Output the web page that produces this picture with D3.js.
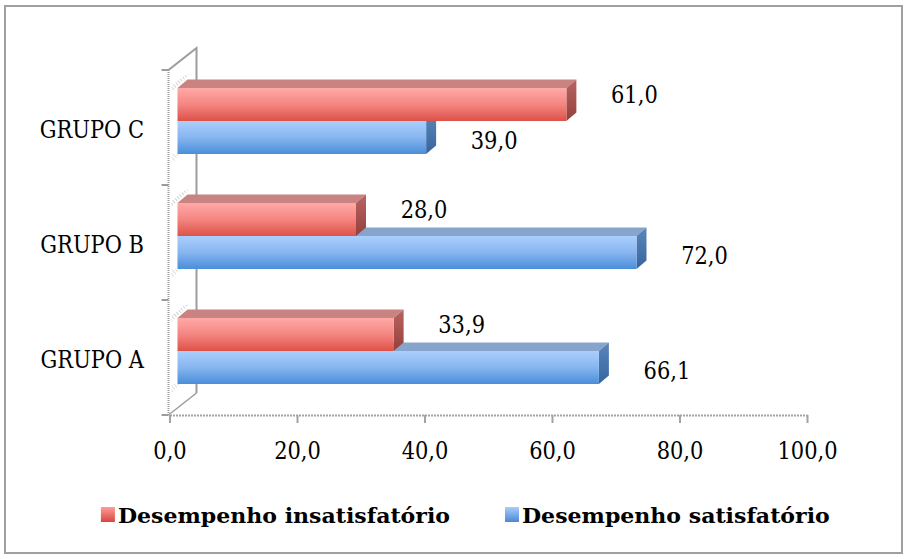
<!DOCTYPE html>
<html>
<head>
<meta charset="utf-8">
<script src="https://cdn.jsdelivr.net/npm/d3@7/dist/d3.min.js"></script>
<style>
  html, body { margin: 0; padding: 0; background: #fff; }
  svg { display: block; }
</style>
</head>
<body>
<svg id="chart" width="908" height="559"></svg>
<script>
// ---------- data ----------
const categories = ["GRUPO A", "GRUPO B", "GRUPO C"];
const insatisfatorio = [33.9, 28.0, 61.0];
const satisfatorio = [66.1, 72.0, 39.0];
const seriesNames = ["Desempenho insatisfatório", "Desempenho satisfatório"];
const xTickValues = [0, 20, 40, 60, 80, 100];

// ---------- layout ----------
const W = 908, H = 559;
const svg = d3.select("#chart");
const FONT = "'DejaVu Serif', 'Liberation Serif', serif";
const CONDENSE = 0.875;
const fmt = v => d3.format(".1f")(v).replace(".", ",");

const x = d3.scaleLinear().domain([0, 100]).range([169.5, 807]);
const y = d3.scaleBand().domain(categories.slice().reverse()).range([70, 415]);

const depthX = 10, depthY = 8.5;   // 3D depth of bars
const barShift = 8;                // front faces sit slightly behind the axis plane
const barOffset = 18, barH = 33;

// ---------- defs ----------
const defs = svg.append("defs");
function vGrad(id, stops) {
  const g = defs.append("linearGradient").attr("id", id)
    .attr("x1", 0).attr("y1", 0).attr("x2", 0).attr("y2", 1);
  stops.forEach(([o, c]) => g.append("stop").attr("offset", o).attr("stop-color", c));
}
vGrad("redFront", [[0, "#ffaaa8"], [0.5, "#f48580"], [1, "#dc5249"]]);
vGrad("blueFront", [[0, "#abcffd"], [0.5, "#87b5ef"], [1, "#4a8ed9"]]);
vGrad("redSide", [[0, "#b86462"], [1, "#95403c"]]);
vGrad("blueSide", [[0, "#5a86bb"], [1, "#36659e"]]);
vGrad("redLeg", [[0, "#ff9d99"], [1, "#d9463e"]]);
vGrad("blueLeg", [[0, "#a9ccfa"], [1, "#4a8ad6"]]);
const pat = defs.append("pattern").attr("id", "hatch").attr("width", 3).attr("height", 3)
  .attr("patternUnits", "userSpaceOnUse").attr("patternTransform", "rotate(-40)");
pat.append("line").attr("x1", 0).attr("y1", 0).attr("x2", 0).attr("y2", 3)
  .attr("stroke", "#8a8a8a").attr("stroke-width", 1);

// ---------- frame ----------
svg.append("rect").attr("x", 5).attr("y", 6).attr("width", W - 11).attr("height", H - 12)
  .attr("fill", "#fff").attr("stroke", "#a0a0a0").attr("stroke-width", 2);

// ---------- wall ----------
const x0 = x(0);
const yTop = y.range()[0], yBot = y.range()[1];
const wallDX = 28, wallDY = 22;
const wall = svg.append("g").attr("stroke", "#9c9c9c").attr("fill", "none");
wall.append("path").attr("stroke-width", 2)
  .attr("d", `M${x0 - 1},${yTop} L${x0 + wallDX - 1},${yTop - wallDY} L${x0 + wallDX - 1},${yBot - wallDY}`);
wall.append("path").attr("stroke-width", 1.5)
  .attr("d", `M${x0 - 1},${yBot} L${x0 + wallDX - 1},${yBot - wallDY}`);
wall.append("line").attr("x1", x0 - 1).attr("x2", x0 - 1).attr("y1", yTop).attr("y2", yBot)
  .attr("stroke-width", 2).attr("stroke-dasharray", "1,1");
// category boundary ticks
const bounds = y.domain().map(c => y(c)).concat([yBot]);
wall.selectAll("line.ct").data(bounds).join("line").attr("class", "ct")
  .attr("x1", x0 - 8).attr("x2", x0 - 1).attr("y1", d => d).attr("y2", d => d)
  .attr("stroke-width", 2);

// shadow hatching on the wall near each bar group
svg.append("g").selectAll("path").data(categories).join("path")
  .attr("fill", "url(#hatch)").attr("opacity", 0.8)
  .attr("d", c => {
    const yr = y(c) + barOffset;
    return `M${x0 + 2},${yr + 4} L${x0 + 2},${yr - 2} L${x0 + 14},${yr - 12} L${x0 + 20},${yr - 14} L${x0 + 10},${yr - 4} Z`;
  });
svg.append("g").selectAll("path").data(categories).join("path")
  .attr("fill", "url(#hatch)").attr("opacity", 0.6)
  .attr("d", c => {
    const yb = y(c) + barOffset + 2 * barH;
    return `M${x0 + 2},${yb} L${x0 + 10},${yb} L${x0 + 4},${yb + 8} L${x0 + 2},${yb + 8} Z`;
  });

// ---------- x axis ----------
const xAxis = d3.axisBottom(x).tickValues(xTickValues).tickFormat(fmt).tickSize(8).tickSizeOuter(0);
const ax = svg.append("g").attr("transform", `translate(0,${yBot})`).call(xAxis);
ax.select(".domain").attr("stroke", "#a3a3a3").attr("stroke-width", 2).attr("stroke-dasharray", "2,1");
ax.selectAll(".tick line").attr("stroke", "#a3a3a3").attr("stroke-width", 2);
ax.selectAll(".tick text")
  .attr("y", 44).attr("dy", 0)
  .attr("font-family", FONT).attr("font-size", 24).attr("fill", "#000")
  .attr("transform", `scale(${CONDENSE},1)`);

// ---------- bars ----------
function bar3d(g, xEnd, yFront, front, top, side) {
  const xs = x(0) + barShift;
  g.append("path").attr("fill", top)
    .attr("d", `M${xs},${yFront} L${xEnd},${yFront} L${xEnd + depthX},${yFront - depthY} L${xs + depthX},${yFront - depthY} Z`);
  g.append("path").attr("fill", `url(#${side})`)
    .attr("d", `M${xEnd},${yFront} L${xEnd + depthX},${yFront - depthY} L${xEnd + depthX},${yFront + barH - depthY} L${xEnd},${yFront + barH} Z`);
  g.append("rect").attr("x", xs).attr("y", yFront).attr("width", xEnd - xs).attr("height", barH)
    .attr("fill", `url(#${front})`);
}
const barsG = svg.append("g");
categories.forEach((c, i) => {
  const g = barsG.append("g");
  const yR = y(c) + barOffset;
  // blue (satisfatório) lower, drawn first
  bar3d(g, x(satisfatorio[i]) + barShift, yR + barH, "blueFront", "#87a4cc", "blueSide");
  bar3d(g, x(insatisfatorio[i]) + barShift, yR, "redFront", "#c98482", "redSide");
});

// ---------- value labels ----------
const labG = svg.append("g").attr("font-family", FONT).attr("font-size", 24).attr("fill", "#000")
  .attr("text-anchor", "middle");
function valLabel(v, cx, cy) {
  labG.append("text").attr("transform", `translate(${cx},${cy}) scale(${CONDENSE},1)`).text(fmt(v));
}
categories.forEach((c, i) => {
  const yR = y(c) + barOffset;
  valLabel(insatisfatorio[i], x(insatisfatorio[i]) + barShift + 68, yR + barH / 2 - 11 + 9);
  valLabel(satisfatorio[i], x(satisfatorio[i]) + barShift + 68, yR + barH * 1.5 + 2.5 + 9);
});

// ---------- category labels ----------
svg.append("g").selectAll("text").data(categories).join("text")
  .attr("transform", c => `translate(144,${y(c) + y.bandwidth() / 2 + 10}) scale(${CONDENSE},1)`)
  .attr("text-anchor", "end").attr("font-family", FONT).attr("font-size", 24).attr("fill", "#000")
  .text(c => c);

// ---------- legend ----------
const leg = svg.append("g").attr("font-family", FONT).attr("font-weight", "bold")
  .attr("font-size", 21).attr("fill", "#000");
const t2 = leg.append("text").attr("x", 0).attr("y", 0).text(seriesNames[1]);
const fit = 308 / t2.node().getComputedTextLength();
t2.attr("transform", `translate(522,523) scale(${fit},1)`);
const t1 = leg.append("text").attr("text-anchor", "end").text(seriesNames[0])
  .attr("transform", `translate(450,523) scale(${fit},1)`);
const w1 = t1.node().getComputedTextLength() * fit;
leg.append("rect").attr("x", 450 - w1 - 17).attr("y", 507).attr("width", 14).attr("height", 15)
  .attr("fill", "url(#redLeg)");
leg.append("rect").attr("x", 505).attr("y", 507).attr("width", 14).attr("height", 15)
  .attr("fill", "url(#blueLeg)");
</script>
</body>
</html>
